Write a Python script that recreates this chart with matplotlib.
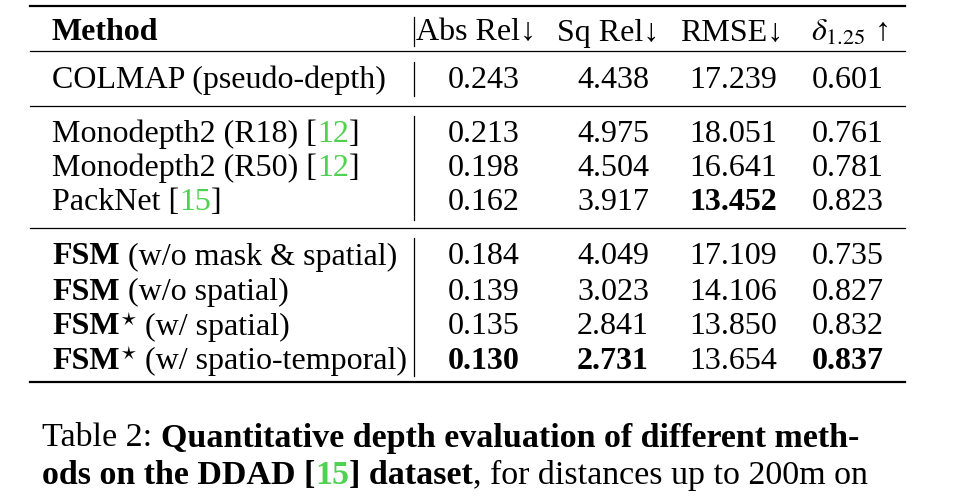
import matplotlib
matplotlib.use("Agg")
import matplotlib.pyplot as plt

plt.rcParams['font.family'] = ['Liberation Serif', 'DejaVu Serif']
plt.rcParams['mathtext.fontset'] = 'stix'

GREEN = '#4fd24f'
W, H = 966, 498
headers = ["Abs Rel↓", "Sq Rel↓", "RMSE↓", r"$\delta_{1.25}$ ↑"]
methods = [
    [("COLMAP (pseudo-depth)", 'normal', 'k')],
    [("Monodepth2 (R18) [", 'normal', 'k'), ("12", 'normal', GREEN), ("]", 'normal', 'k')],
    [("Monodepth2 (R50) [", 'normal', 'k'), ("12", 'normal', GREEN), ("]", 'normal', 'k')],
    [("PackNet [", 'normal', 'k'), ("15", 'normal', GREEN), ("]", 'normal', 'k')],
    [("FSM", 'bold', 'k'), (" (w/o mask & spatial)", 'normal', 'k')],
    [("FSM", 'bold', 'k'), (" (w/o spatial)", 'normal', 'k')],
    [("FSM", 'bold', 'k'), (r"$^{\star}$", 'normal', 'k'), (" (w/ spatial)", 'normal', 'k')],
    [("FSM", 'bold', 'k'), (r"$^{\star}$", 'normal', 'k'), (" (w/ spatio-temporal)", 'normal', 'k')],
]
abs_rel = ["0.243", "0.213", "0.198", "0.162", "0.184", "0.139", "0.135", "0.130"]
sq_rel = ["4.438", "4.975", "4.504", "3.917", "4.049", "3.023", "2.841", "2.731"]
rmse = ["17.239", "18.051", "16.641", "13.452", "17.109", "14.106", "13.850", "13.654"]
delta = ["0.601", "0.761", "0.781", "0.823", "0.735", "0.827", "0.832", "0.837"]
bold_cells = {(7, 0), (7, 1), (3, 2), (7, 3)}

row_y = [80, 134, 168, 203, 257, 292, 327, 361]
col_x = [484, 613, 733, 848]
head_x = [476, 608, 732, 850]
FS = 23

fig = plt.figure(figsize=(W / 100, H / 100), dpi=100)
fig.patch.set_facecolor('white')
renderer = fig.canvas.get_renderer()

def fx(x): return x / W
def fy(y): return 1 - y / H

def runs(x, y, parts, fs=FS):
    for s, wt, c in parts:
        t = fig.text(fx(x), fy(y), s, fontsize=fs, fontweight=wt, color=c, va='center', ha='left')
        x += t.get_window_extent(renderer).width

def hline(y, lw):
    fig.add_artist(plt.Line2D([fx(30), fx(905)], [fy(y), fy(y)], color='k', lw=lw))

def vline(y0, y1):
    fig.add_artist(plt.Line2D([fx(414), fx(414)], [fy(y0), fy(y1)], color='k', lw=0.9))

hline(6, 1.6); hline(51, 0.9); hline(106, 0.9); hline(228, 0.9); hline(382, 1.6)
vline(17, 46); vline(62, 96); vline(116, 220); vline(238, 376)

runs(52, 33, [("Method", 'bold', 'k')])
for x, h in zip(head_x, headers):
    fig.text(fx(x), fy(33), h, fontsize=FS, ha='center', va='center')

for i, (m, y) in enumerate(zip(methods, row_y)):
    runs(52, y, m)
    for j, col in enumerate([abs_rel, sq_rel, rmse, delta]):
        fig.text(fx(col_x[j]), fy(y), col[i], fontsize=FS, ha='center', va='center',
                 fontweight='bold' if (i, j) in bold_cells else 'normal')

CF = 24.5
runs(42, 438, [("Table 2: ", 'normal', 'k'), ("Quantitative depth evaluation of different meth-", 'bold', 'k')], CF)
runs(42, 475, [("ods on the DDAD [", 'bold', 'k'), ("15", 'bold', GREEN), ("] dataset", 'bold', 'k'),
               (", for distances up to 200m on", 'normal', 'k')], CF)

fig.savefig("out.png", dpi=100, facecolor='white')
